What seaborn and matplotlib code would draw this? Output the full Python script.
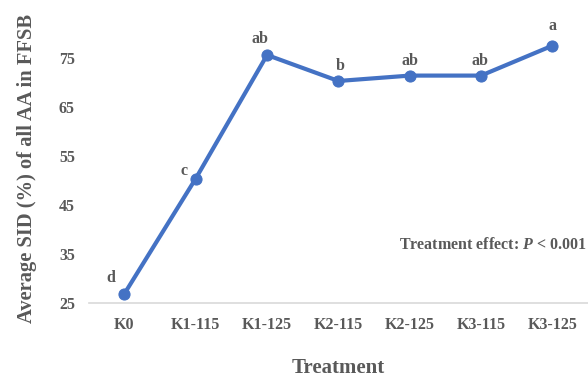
import matplotlib
matplotlib.use("Agg")
import matplotlib.pyplot as plt
import seaborn as sns
import pandas as pd

# data
treatments = ["K0", "K1-115", "K1-125", "K2-115", "K2-125", "K3-115", "K3-125"]
sid_values = [27.0, 50.5, 75.7, 70.4, 71.5, 71.5, 77.6]
letters = ["d", "c", "ab", "b", "ab", "ab", "a"]
y_ticks = [25, 35, 45, 55, 65, 75]

df = pd.DataFrame({"Treatment": treatments, "SID": sid_values})

sns.set_style("white")
plt.rcParams["font.family"] = ["Liberation Serif", "DejaVu Serif"]
plt.rcParams["font.weight"] = "bold"
plt.rcParams["mathtext.fontset"] = "custom"
plt.rcParams["mathtext.it"] = "Liberation Serif:italic:bold"
plt.rcParams["mathtext.rm"] = "Liberation Serif:bold"

gray = "#595959"
blue = "#4472C4"

fig = plt.figure(figsize=(5.88, 3.77), dpi=100)
ax = fig.add_axes([0.151, 0.195, 0.849, 0.715])

sns.lineplot(data=df, x="Treatment", y="SID", sort=False, ax=ax,
             color=blue, linewidth=3, marker="o", markersize=8,
             markeredgecolor=blue, clip_on=False)

ax.set_xlim(-0.5, len(treatments) - 0.5)
ax.set_ylim(25, 80)
ax.set_yticks(y_ticks)
ax.set_yticklabels([str(t) for t in y_ticks], fontsize=11.5, color=gray, fontweight="bold")
ax.set_xticks(range(len(treatments)))
ax.set_xticklabels(treatments, fontsize=11.5, color=gray, fontweight="bold")
ax.tick_params(axis="both", length=0, pad=10)

for s in ["top", "right", "left"]:
    ax.spines[s].set_visible(False)
ax.spines["bottom"].set_color("#D9D9D9")
ax.spines["bottom"].set_linewidth(1.2)

ax.set_xlabel("Treatment", fontsize=15, color=gray, fontweight="bold", labelpad=18)
ax.set_ylabel("Average SID (%) of all AA in FFSB", fontsize=14.8, color=gray,
              fontweight="bold", labelpad=16)

# significance letters, offsets in pixels from the marker
offsets = [(-14, 16), (-12, 8), (-7, 16), (2, 15), (0, 15), (-1, 15), (0, 20)]
for i, (v, lab) in enumerate(zip(sid_values, letters)):
    dx, dy = offsets[i]
    ax.annotate(lab, (i, v), xytext=(dx * 0.72, dy * 0.72), textcoords="offset points",
                ha="center", va="center", fontsize=11.5, color=gray,
                fontweight="bold", annotation_clip=False)

ax.text(0.997, 0.216, "Treatment effect: $P$ < 0.001", transform=ax.transAxes,
        ha="right", va="center", fontsize=11.5, color=gray, fontweight="bold")

fig.savefig("out.png", dpi=100)
